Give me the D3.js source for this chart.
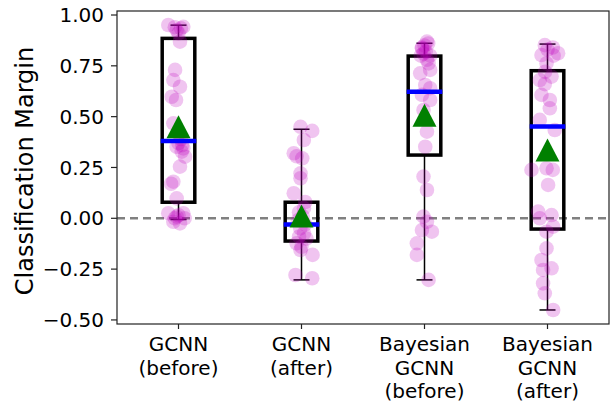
<!DOCTYPE html>
<html>
<head>
<meta charset="utf-8">
<script src="https://cdn.jsdelivr.net/npm/d3@7"></script>
<style>
  body { margin: 0; background: #fff; }
  svg { display: block; font-family: "DejaVu Sans", sans-serif; }
</style>
</head>
<body>
<svg id="chart" width="611" height="402"></svg>
<script>
// categories (multi-line labels)
var categories = [
  ["GCNN", "(before)"],
  ["GCNN", "(after)"],
  ["Bayesian", "GCNN", "(before)"],
  ["Bayesian", "GCNN", "(after)"]
];

// box statistics
var q1 = [0.079, -0.112, 0.311, -0.053];
var q3 = [0.885, 0.079, 0.798, 0.726];
var medians = [0.38, -0.03, 0.623, 0.451];
var means = [0.45, 0.011, 0.507, 0.336];
var whiskerLow = [-0.006, -0.303, -0.303, -0.451];
var whiskerHigh = [0.95, 0.438, 0.861, 0.857];

// jittered samples: [x in category units, margin]
var pointsGcnnBefore = [
  [0.917, 0.951], [0.985, 0.926], [1.039, 0.942], [1.012, 0.869], [1.02, 0.935],
  [1.0, 0.91], [0.97, 0.94], [0.972, 0.73], [0.958, 0.68], [1.012, 0.647],
  [0.945, 0.598], [0.98, 0.582], [0.958, 0.467], [0.985, 0.352], [1.039, 0.344],
  [1.026, 0.328], [1.053, 0.303], [1.012, 0.254], [1.03, 0.36], [1.0, 0.37],
  [1.02, 0.39], [0.958, 0.18], [0.94, 0.17], [0.985, 0.098], [0.917, 0.025],
  [0.985, 0.008], [1.039, 0.025], [0.958, -0.017], [1.012, -0.025], [0.97, 0.0],
  [1.05, 0.0], [1.0, 0.015]
];
var pointsGcnnAfter = [
  [1.992, 0.45], [2.087, 0.43], [2.019, 0.385], [1.937, 0.32], [2.006, 0.295],
  [1.96, 0.305], [1.992, 0.221], [1.992, 0.197], [1.937, 0.123], [2.03, 0.08],
  [2.02, 0.05], [1.98, 0.03], [2.01, 0.01], [1.97, -0.01], [2.03, -0.03],
  [1.99, -0.05], [2.02, -0.074], [1.98, -0.09], [2.04, -0.1], [1.96, -0.123],
  [2.0, -0.14], [1.992, -0.156], [2.09, -0.18], [1.951, -0.279], [2.087, -0.295]
];
var pointsBayesBefore = [
  [3.02, 0.869], [2.979, 0.836], [2.992, 0.81], [3.046, 0.8], [3.0, 0.85],
  [2.98, 0.84], [3.01, 0.82], [3.03, 0.86], [2.97, 0.8], [3.02, 0.78],
  [3.033, 0.762], [3.046, 0.73], [2.965, 0.713], [3.006, 0.656], [3.046, 0.64],
  [2.979, 0.607], [3.046, 0.582], [2.992, 0.533], [3.02, 0.426], [3.006, 0.352],
  [2.992, 0.205], [3.02, 0.139], [2.992, 0.008], [3.02, -0.017], [2.979, -0.058],
  [3.06, -0.066], [2.938, -0.123], [2.938, -0.18], [3.033, -0.303]
];
var pointsBayesAfter = [
  [3.978, 0.852], [3.951, 0.803], [4.086, 0.812], [4.043, 0.84], [4.0, 0.83],
  [4.05, 0.8], [3.992, 0.762], [3.98, 0.72], [4.033, 0.697], [3.937, 0.68],
  [3.978, 0.66], [3.951, 0.607], [4.019, 0.582], [4.019, 0.541], [3.937, 0.484],
  [4.059, 0.434], [3.87, 0.238], [3.992, 0.246], [4.043, 0.238], [4.005, 0.164],
  [3.924, 0.033], [4.033, 0.016], [3.937, 0.0], [4.046, -0.041], [3.992, -0.066],
  [3.992, -0.148], [3.951, -0.205], [4.033, -0.246], [3.964, -0.254], [3.964, -0.32],
  [3.978, -0.369], [4.046, -0.451]
];
var allPoints = [pointsGcnnBefore, pointsGcnnAfter, pointsBayesBefore, pointsBayesAfter];

var yTicks = [-0.5, -0.25, 0, 0.25, 0.5, 0.75, 1.0];

var plotLeft = 117, plotRight = 609, plotTop = 11, plotBottom = 324;
var svg = d3.select("#chart");

var x = d3.scaleLinear().domain([0.5, 4.5]).range([plotLeft, plotRight]);
var y = d3.scaleLinear().domain([-0.52, 1.0197]).range([plotBottom, plotTop]);

var boxW = 0.265, capW = 0.13;

// zero reference line
svg.append("line")
  .attr("x1", plotLeft).attr("x2", plotRight)
  .attr("y1", y(0)).attr("y2", y(0))
  .attr("stroke", "#808080")
  .attr("stroke-width", 2.5)
  .attr("stroke-dasharray", "8,5");

var idx = d3.range(categories.length);

// whiskers, caps and boxes
var g = svg.append("g");
idx.forEach(function(i){
  var cx = x(i + 1);
  g.append("line").attr("x1", cx).attr("x2", cx)
    .attr("y1", y(q3[i])).attr("y2", y(whiskerHigh[i]))
    .attr("stroke", "#000").attr("stroke-width", 1.5);
  g.append("line").attr("x1", cx).attr("x2", cx)
    .attr("y1", y(q1[i])).attr("y2", y(whiskerLow[i]))
    .attr("stroke", "#000").attr("stroke-width", 1.5);
  [whiskerHigh[i], whiskerLow[i]].forEach(function(v){
    g.append("line")
      .attr("x1", x(i + 1 - capW / 2)).attr("x2", x(i + 1 + capW / 2))
      .attr("y1", y(v)).attr("y2", y(v))
      .attr("stroke", "#000").attr("stroke-width", 1.5);
  });
  g.append("rect")
    .attr("x", x(i + 1 - boxW / 2))
    .attr("y", y(q3[i]))
    .attr("width", x(i + 1 + boxW / 2) - x(i + 1 - boxW / 2))
    .attr("height", y(q1[i]) - y(q3[i]))
    .attr("fill", "none")
    .attr("stroke", "#000")
    .attr("stroke-width", 3.5);
});

// samples
idx.forEach(function(i){
  svg.append("g").selectAll("circle")
    .data(allPoints[i])
    .join("circle")
    .attr("cx", function(d){ return x(d[0]); })
    .attr("cy", function(d){ return y(d[1]); })
    .attr("r", 7.3)
    .attr("fill", "#bf00bf")
    .attr("fill-opacity", 0.23);
});

// medians and means
idx.forEach(function(i){
  svg.append("line")
    .attr("x1", x(i + 1 - boxW / 2) - 1.5).attr("x2", x(i + 1 + boxW / 2) + 1.5)
    .attr("y1", y(medians[i])).attr("y2", y(medians[i]))
    .attr("stroke", "#0000ff").attr("stroke-width", 4.5);
  var cx = x(i + 1), cy = y(means[i]);
  svg.append("path")
    .attr("d", "M" + cx + "," + (cy - 11.5) + "L" + (cx + 12) + "," + (cy + 11.5) + "L" + (cx - 12) + "," + (cy + 11.5) + "Z")
    .attr("fill", "#008000");
});

// frame
svg.append("rect")
  .attr("x", plotLeft).attr("y", plotTop)
  .attr("width", plotRight - plotLeft).attr("height", plotBottom - plotTop)
  .attr("fill", "none").attr("stroke", "#222").attr("stroke-width", 1.2);

// y axis
var yAxis = svg.append("g");
yTicks.forEach(function(t){
  yAxis.append("line")
    .attr("x1", plotLeft - 6).attr("x2", plotLeft)
    .attr("y1", y(t)).attr("y2", y(t))
    .attr("stroke", "#222").attr("stroke-width", 1.2);
  yAxis.append("text")
    .attr("x", plotLeft - 13).attr("y", y(t))
    .attr("dy", "0.36em")
    .attr("text-anchor", "end")
    .attr("font-size", 20)
    .attr("fill", "#000")
    .text(d3.format(".2f")(t).replace("-", "\u2212"));
});

// x axis
var xAxis = svg.append("g");
idx.forEach(function(i){
  var cx = x(i + 1);
  xAxis.append("line")
    .attr("x1", cx).attr("x2", cx)
    .attr("y1", plotBottom).attr("y2", plotBottom + 5)
    .attr("stroke", "#222").attr("stroke-width", 1.2);
  var t = xAxis.append("text")
    .attr("text-anchor", "middle")
    .attr("font-size", 20)
    .attr("fill", "#000");
  categories[i].forEach(function(line, k){
    t.append("tspan").attr("x", cx).attr("y", 351 + k * 23.5).text(line);
  });
});

svg.append("text")
  .attr("transform", "translate(33," + 171 + ") rotate(-90)")
  .attr("text-anchor", "middle")
  .attr("font-size", 24)
  .attr("fill", "#000")
  .text("Classification Margin");
</script>
</body>
</html>
